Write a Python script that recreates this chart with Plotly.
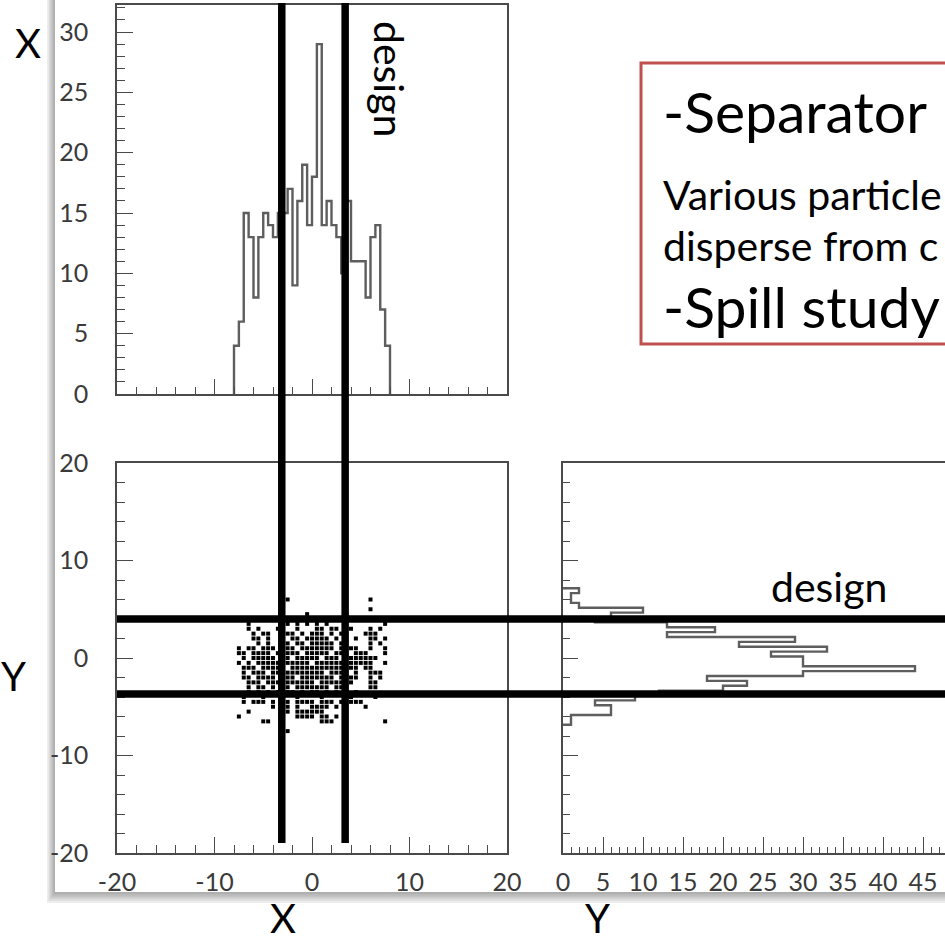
import plotly.graph_objects as go

W = H = 945

# ---- data -------------------------------------------------------------
# X projection (counts per 0.5-wide bin, first bin starts at -8)
x_bin_start = -8.0
x_bin_width = 0.5
x_counts = [4, 6, 15, 13, 8, 13, 15, 14, 13, 15, 15, 17, 9, 16, 19, 14,
            18, 29, 14, 16, 14, 13, 10, 16, 11, 11, 11, 8, 13, 14, 7, 4]

# Y projection (counts per 0.5-wide bin, lowest bin first)
y_bin_start = -6.85
y_bin_width = 0.5
y_counts = [1, 1, 6, 6, 4, 9, 12, 20, 23, 18, 30, 44, 30, 30, 26, 33,
            22, 29, 13, 19, 13, 4, 6, 10, 2, 1, 1, 2]

# X-Y scatter, one list of x positions per row
scatter_row_y = [6.0, 5.0, 4.5, 4.0, 3.5, 3.0, 2.5, 2.0, 1.5, 1.0, 0.5, 0.0,
                 -0.5, -1.0, -1.5, -2.0, -2.5, -3.0, -3.5, -4.0, -4.5, -5.0,
                 -5.5, -6.0, -6.5, -7.5]
scatter_row_x = [
    [-2.5, 6.0],
    [6.0],
    [-0.5],
    [-5.5, -2.0, 3.0],
    [-6.5, -2.5, -1.5, -0.5, 0.5, 1.5, 7.5],
    [-6.5, -5.5, -3.5, -1.5, 0.5, 1.0, 2.0, 2.5, 4.0, 6.0, 7.0],
    [-6.0, -5.0, -4.5, -2.5, -2.0, -1.0, 0.0, 0.5, 1.0, 2.0, 3.0, 3.5, 5.5, 6.0, 6.5],
    [-6.0, -5.5, -4.5, -2.0, -1.5, -0.5, 0.0, 0.5, 1.0, 1.5, 2.5, 3.5, 4.5, 6.0, 6.5, 7.5],
    [-5.5, -4.5, -2.5, -1.5, -1.0, 0.0, 0.5, 1.0, 1.5, 2.0, 3.0, 3.5, 6.0, 7.0],
    [-7.5, -6.5, -6.0, -5.0, -4.5, -4.0, -2.5, -2.0, -1.0, -0.5, 0.0, 0.5, 1.0, 1.5,
     2.0, 3.0, 4.0, 4.5, 6.0, 7.5],
    [-7.5, -7.0, -6.0, -5.5, -5.0, -4.5, -3.5, -2.5, -2.0, -1.5, -0.5, 0.0, 0.5, 1.0,
     1.5, 2.5, 3.0, 3.5, 4.5, 5.0, 5.5, 7.5],
    [-7.0, -6.0, -5.5, -5.0, -4.5, -4.0, -3.0, -2.5, -1.5, -1.0, -0.5, 0.0, 0.5, 1.5,
     2.0, 2.5, 3.5, 4.0, 4.5, 5.0, 5.5, 6.0, 6.5],
    [-7.5, -6.5, -5.5, -5.0, -4.5, -4.0, -3.5, -2.5, -2.0, -1.5, -1.0, -0.5, 0.5, 1.0,
     1.5, 2.0, 2.5, 3.0, 4.0, 4.5, 5.0, 5.5, 6.0, 7.5],
    [-7.0, -6.5, -6.0, -5.0, -4.5, -4.0, -3.5, -3.0, -2.0, -1.5, -1.0, -0.5, 0.0, 0.5,
     1.0, 1.5, 2.0, 2.5, 3.0, 4.0, 4.5, 5.5, 6.0],
    [-7.0, -6.0, -5.5, -5.0, -4.0, -3.5, -2.5, -2.0, -1.5, -1.0, -0.5, 0.0, 0.5, 1.0,
     2.0, 2.5, 3.0, 3.5, 4.5, 6.0, 6.5, 7.0],
    [-7.0, -6.5, -5.5, -5.0, -4.5, -4.0, -2.5, -2.0, -1.0, -0.5, 0.0, 0.5, 1.0, 1.5,
     2.0, 3.0, 3.5, 4.0, 4.5, 6.0, 7.0],
    [-6.5, -6.0, -5.5, -4.5, -4.0, -3.5, -2.5, -2.0, -1.5, -1.0, -0.5, 0.0, 1.0, 1.5,
     2.0, 2.5, 3.0, 4.0, 6.0, 6.5],
    [-6.5, -5.5, -5.0, -4.0, -2.5, -1.5, -1.0, -0.5, 0.0, 0.5, 1.0, 1.5, 2.5, 3.0,
     3.5, 6.0, 6.5],
    [-6.5, -5.5, -4.5, -3.5, -2.5, -2.0, -1.0, 0.0, 0.5, 1.5, 2.5, 3.5, 4.5],
    [-7.0, -5.0, -1.5, 1.0, 4.0, 6.5],
    [-7.0, -6.0, -5.5, -5.0, -4.0, -2.5, -1.5, -1.0, -0.5, 0.0, 1.0, 1.5, 2.0, 3.0,
     4.0, 4.5, 5.0],
    [-4.0, -2.5, -1.5, 0.0, 0.5, 1.0, 1.5, 2.5, 3.5, 5.5],
    [-6.5, -2.5, -1.5, -1.0, -0.5, 0.0, 0.5, 1.0],
    [-7.5, -1.5, -1.0, -0.5, 0.0, 1.0, 1.5, 2.5],
    [-5.0, -4.5, 1.0, 1.5, 2.0, 7.5],
    [-2.5],
]

# design acceptance window (X and Y limits)
design_x = [-3.1, 3.4]
design_y = [4.0, -3.7]

# tick labels
hist_count_ticks = [0, 5, 10, 15, 20, 25, 30]
pos_ticks = [-20, -10, 0, 10, 20]
proj_count_ticks = [0, 5, 10, 15, 20, 25, 30, 35, 40, 45]

box_lines = ["-Separator", "Various particle", "disperse from c", "-Spill study"]


# ---- helpers ----------------------------------------------------------
def px(x):
    return x / W


def py(y):
    return 1 - y / H


def hyphen(v):
    return str(v).replace("\u2212", "-")


FONT = "Lato"
LINE = "#4a4a4a"
HIST = "#5e5e5e"

# step outline of the X projection
xe = [x_bin_start + i * x_bin_width for i in range(len(x_counts) + 1)]
hx = [xe[0], xe[0]] + xe[1:len(x_counts)] + [xe[-1]]
hy = [0] + x_counts + [0]

# step outline of the Y projection (drawn sideways)
ye = [y_bin_start + i * y_bin_width for i in range(len(y_counts) + 1)]
vy = [ye[0], ye[0]] + ye[1:len(y_counts)] + [ye[-1]]
vx = [0] + y_counts + [0]

sx, sy = [], []
for yv, xs in zip(scatter_row_y, scatter_row_x):
    for xv in xs:
        sx.append(xv)
        sy.append(yv)

fig = go.Figure()
fig.add_trace(go.Scatter(x=hx, y=hy, mode="lines", line=dict(color=HIST, width=2.4, shape="hv"),
                         xaxis="x", yaxis="y", hoverinfo="skip"))
fig.add_trace(go.Scatter(x=sx, y=sy, mode="markers",
                         marker=dict(symbol="square", size=4, color="black", line=dict(width=0)),
                         xaxis="x2", yaxis="y2", hoverinfo="skip"))
fig.add_trace(go.Scatter(x=vx, y=vy, mode="lines", line=dict(color=HIST, width=2.4, shape="vh"),
                         xaxis="x3", yaxis="y3", hoverinfo="skip"))

tickfont = dict(family=FONT, size=25, color="#3a3a3a")


def axis(**kw):
    base = dict(showgrid=False, zeroline=False, showline=True, linecolor=LINE, linewidth=1.5,
                ticks="inside", tickcolor=LINE, tickwidth=1.3, tickfont=tickfont,
                fixedrange=True, automargin=False)
    base.update(kw)
    return base


def minor(step, length):
    return dict(tickmode="linear", tick0=0, dtick=step, ticklen=length, ticks="inside",
                tickcolor=LINE, tickwidth=1.2)


top_dom = [py(394), py(5)]
low_dom = [py(853), py(463)]
left_dom = [px(117), px(507)]

fig.update_layout(
    width=W, height=H, margin=dict(l=0, r=0, t=0, b=0, pad=0), autosize=False,
    paper_bgcolor="white", plot_bgcolor="rgba(0,0,0,0)", showlegend=False,
    xaxis=axis(domain=left_dom, anchor="y", range=[-20, 20], mirror=True,
               tickmode="array", tickvals=pos_ticks, ticklen=15, showticklabels=False,
               minor=minor(2, 7)),
    yaxis=axis(domain=top_dom, anchor="x", range=[0, 32.24], mirror=True,
               tickmode="array", tickvals=hist_count_ticks,
               ticktext=[hyphen(v) for v in hist_count_ticks], ticklen=16,
               ticklabelstandoff=22, minor=minor(1, 8)),
    xaxis2=axis(domain=left_dom, anchor="y2", range=[-20, 20], mirror=True,
                tickmode="array", tickvals=pos_ticks, ticktext=[hyphen(v) for v in pos_ticks],
                ticklen=16, ticklabelstandoff=6, minor=minor(2, 8)),
    yaxis2=axis(domain=low_dom, anchor="x2", range=[-20, 20], mirror=True,
                tickmode="array", tickvals=pos_ticks, ticktext=[hyphen(v) for v in pos_ticks],
                ticklen=16, ticklabelstandoff=22, minor=minor(2, 8)),
    xaxis3=axis(domain=[px(563), 1.0], anchor="y3", range=[0, (W - 563) / 8.0], mirror=True,
                tickmode="array", tickvals=proj_count_ticks,
                ticktext=[hyphen(v) for v in proj_count_ticks], ticklen=16,
                ticklabelstandoff=6, minor=minor(1, 6)),
    yaxis3=axis(domain=low_dom, anchor="x3", range=[-20, 20], mirror=False,
                tickmode="array", tickvals=pos_ticks, ticklen=15, showticklabels=False,
                minor=minor(2, 7)),
)

shapes = []
# drop shadow of the picture panel
for k in range(5, 0, -1):
    shapes.append(dict(type="rect", xref="paper", yref="paper", layer="below",
                       x0=px(55 - 1.6 * k), x1=1.05, y0=py(892 + 2.2 * k), y1=1.05,
                       fillcolor="rgba(0,0,0,0.07)", line=dict(width=0)))
shapes.append(dict(type="rect", xref="paper", yref="paper", layer="below",
                   x0=px(55), x1=1.05, y0=py(892), y1=1.05,
                   fillcolor="white", line=dict(width=0)))
# text box
shapes.append(dict(type="rect", xref="paper", yref="paper", layer="above",
                   x0=px(641), x1=px(990), y0=py(344), y1=py(63),
                   fillcolor="white", line=dict(color="rgb(192,80,77)", width=3)))
# design limits
for xv in design_x:
    shapes.append(dict(type="line", xref="x2", yref="paper", x0=xv, x1=xv,
                       y0=py(843), y1=py(3), line=dict(color="black", width=7.5)))
for yv in design_y:
    shapes.append(dict(type="line", xref="paper", yref="y2", x0=px(117), x1=1.02,
                       y0=yv, y1=yv, line=dict(color="black", width=7.5)))
fig.update_layout(shapes=shapes)


def label(text, x, y, size, angle=0, xanchor="center", yanchor="middle"):
    return dict(text=text, x=px(x), y=py(y), xref="paper", yref="paper", showarrow=False,
                xanchor=xanchor, yanchor=yanchor, textangle=angle,
                font=dict(family=FONT, size=size, color="black"))


ann = [
    label("X", 28, 43, 40),
    label("Y", 13, 676, 40),
    label("X", 283, 944, 40, yanchor="bottom"),
    label("Y", 597, 944, 40, yanchor="bottom"),
    label("design", 389, 79, 41, angle=90),
    label("design", 829, 586, 41),
    label(box_lines[0], 661, 111, 57, xanchor="left"),
    label(box_lines[1], 661, 194, 41, xanchor="left"),
    label(box_lines[2], 661, 245, 41, xanchor="left"),
    label(box_lines[3], 661, 306, 57, xanchor="left"),
]
fig.update_layout(annotations=ann)

fig.write_html("out.html")
